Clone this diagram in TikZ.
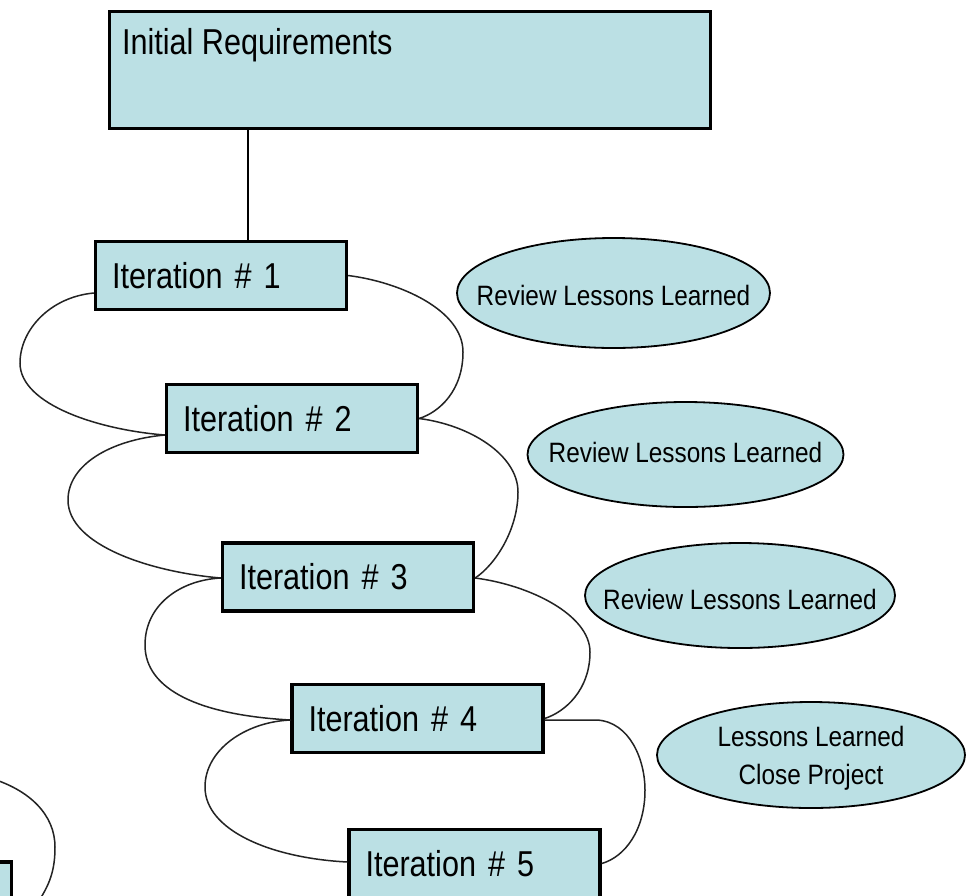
\documentclass[tikz,border=0pt]{standalone}
\usepackage{fontspec}
\setmainfont{Liberation Sans}
\newfontfamily\boxfont{Liberation Sans}[FakeStretch=0.85]
\newfontfamily\ellfont{Liberation Sans}[FakeStretch=0.87]
\usetikzlibrary{shapes.geometric,calc}
\definecolor{boxfill}{RGB}{187,224,228}
\definecolor{linkcol}{RGB}{35,35,35}
\begin{document}
\begin{tikzpicture}[x=1pt,y=-1pt,
  iterbox/.style={draw=black, line width=3.2pt, fill=boxfill, minimum width=251pt,
    minimum height=68pt, text width=218pt, inner xsep=16.5pt, inner ysep=0pt,
    align=left, font=\boxfont\fontsize{36}{40}\selectfont},
  initbox/.style={draw=black, line width=3.2pt, fill=boxfill, minimum width=601pt,
    minimum height=117pt, inner sep=0pt},
  inittext/.style={anchor=base west, inner sep=0pt, font=\boxfont\fontsize{36}{40}\selectfont},
  lessons/.style={ellipse, draw=black, line width=1.8pt, fill=boxfill, inner xsep=-40pt,
    inner ysep=0pt, align=center, font=\ellfont\fontsize{28}{38}\selectfont},
  link/.style={draw=linkcol, line width=1.5pt},
  stem/.style={draw=black, line width=2.4pt}]

\fill[white] (0,0) rectangle (966,895);
\useasboundingbox (0,0) rectangle (966,895);

% boxes
\node[initbox] (init) at (410,70) {};
\node[inittext] (inittxt) at ([shift={(14pt,-45pt)}]init.north west) {Initial Requirements};
\node[iterbox] (it1) at (221,275.5) {Iteration \# 1};
\node[iterbox] (it2) at (292,418.5) {Iteration \# 2};
\node[iterbox] (it3) at (348,577) {Iteration \# 3};
\node[iterbox] (it4) at (417.5,718.5) {Iteration \# 4};
\node[iterbox] (it5) at (474.5,863.5) {Iteration \# 5};
\node[iterbox] (it6) at (-114,896) {};

% ellipses
\node[lessons, minimum width=313pt, minimum height=110pt, text height=24.4pt, text depth=0pt] (rev1) at (613.5,293) {Review Lessons Learned};
\node[lessons, minimum width=316pt, minimum height=105pt, text height=20.4pt, text depth=5pt] (rev2) at (685.5,454.5) {Review Lessons Learned};
\node[lessons, minimum width=310pt, minimum height=105pt, text height=28.4pt, text depth=0pt] (rev3) at (740,595.5) {Review Lessons Learned};
\node[lessons, minimum width=308pt, minimum height=106pt, text depth=0pt] (close) at (811,755) {Lessons Learned\\Close Project};

% stem
\draw[stem] ([xshift=27pt]it1.north) -- ([xshift=27pt]it1.north |- init.south);

% loop 1-2
\draw[link] ([yshift=-17.5pt]it1.west) .. controls (50,297) and (20,330) .. (20,363)
  .. controls (20,405) and (100,430) .. ([yshift=-16.5pt]it2.west);
\draw[link] (it1.east) .. controls (400,282) and (463,310) .. (463,352)
  .. controls (463,390) and (440,412) .. (it2.east);

% loop 2-3
\draw[link] ([yshift=-16.5pt]it2.west) .. controls (110,440) and (68,465) .. (68,500)
  .. controls (68,545) and (150,572) .. ([yshift=-1pt]it3.west);
\draw[link] (it2.east) .. controls (470,425) and (518,455) .. (518,492)
  .. controls (518,530) and (495,565) .. ([yshift=-1pt]it3.east);

% loop 3-4
\draw[link] ([yshift=-1pt]it3.west) .. controls (180,580) and (145,605) .. (145,645)
  .. controls (145,690) and (200,715) .. ([yshift=-1.5pt]it4.west);
\draw[link] ([yshift=-1pt]it3.east) .. controls (530,585) and (590,615) .. (590,652)
  .. controls (590,690) and (565,712) .. (it4.east);

% loop 4-5
\draw[link] ([yshift=-1.5pt]it4.west) .. controls (245,722) and (205,750) .. (205,787)
  .. controls (205,830) and (270,858) .. ([yshift=1.5pt]it5.west);
\draw[link] ([yshift=-1.5pt]it4.east) -- (597,720) .. controls (630,722) and (645,760) .. (645,790)
  .. controls (645,830) and (625,857) .. (it5.east);

% partial curve bottom left
\coordinate (p1) at (-10,778);
\coordinate (p2) at (36,905);
\draw[link] (p1) .. controls (30,790) and (55,815) .. (55,847)
  .. controls (55,870) and (50,885) .. (p2);
\end{tikzpicture}
\end{document}
